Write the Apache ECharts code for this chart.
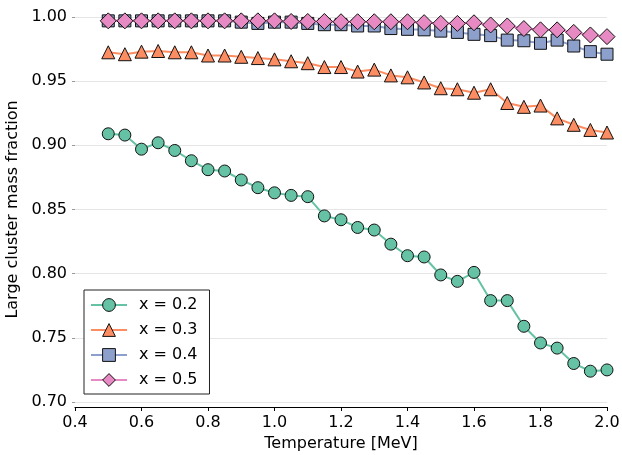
<!DOCTYPE html>
<html>
<head>
<meta charset="utf-8">
<script src="https://cdn.jsdelivr.net/npm/echarts@6/dist/echarts.min.js"></script>
<style>
  html, body { margin: 0; padding: 0; background: #fff; }
  #chart { width: 622px; height: 455px; }
</style>
</head>
<body>
<div id="chart"></div>
<script>
  // temperature grid [MeV]
  var temperature = [0.5, 0.55, 0.6, 0.65, 0.7, 0.75, 0.8, 0.85, 0.9, 0.95, 1.0,
    1.05, 1.1, 1.15, 1.2, 1.25, 1.3, 1.35, 1.4, 1.45, 1.5, 1.55, 1.6, 1.65, 1.7,
    1.75, 1.8, 1.85, 1.9, 1.95, 2.0];

  var seriesNames = ['x = 0.2', 'x = 0.3', 'x = 0.4', 'x = 0.5'];

  var frac02 = [0.909, 0.908, 0.897, 0.902, 0.896, 0.888, 0.881, 0.880, 0.873, 0.867, 0.863,
    0.861, 0.860, 0.845, 0.842, 0.836, 0.834, 0.823, 0.814, 0.813, 0.799, 0.794, 0.801, 0.779, 0.779,
    0.759, 0.746, 0.742, 0.730, 0.724, 0.725];
  var frac03 = [0.9725, 0.971, 0.973, 0.9735, 0.9725, 0.9725, 0.970, 0.970, 0.969, 0.968, 0.967,
    0.9655, 0.964, 0.961, 0.961, 0.9575, 0.959, 0.9545, 0.953, 0.949, 0.9445, 0.9437, 0.941, 0.9437, 0.933,
    0.930, 0.931, 0.921, 0.916, 0.912, 0.910];
  var frac04 = [0.997, 0.997, 0.997, 0.997, 0.997, 0.997, 0.997, 0.997, 0.996, 0.995, 0.996,
    0.996, 0.995, 0.994, 0.994, 0.993, 0.993, 0.991, 0.9904, 0.990, 0.989, 0.988, 0.9865, 0.9855, 0.982,
    0.9815, 0.9795, 0.982, 0.9774, 0.973, 0.971];
  var frac05 = [0.997, 0.997, 0.997, 0.997, 0.997, 0.997, 0.997, 0.997, 0.997, 0.997, 0.997,
    0.9965, 0.9965, 0.9965, 0.9963, 0.9963, 0.9963, 0.9963, 0.9963, 0.9956, 0.995, 0.995, 0.9955, 0.9938, 0.993,
    0.991, 0.990, 0.990, 0.988, 0.986, 0.9847];

  var colors = ['#66c2a5', '#fc8d62', '#8da0cb', '#e78ac3'];
  var symbols = ['circle', 'triangle', 'rect', 'diamond'];
  var sizes = [12, 13, 12, 16];
  var allData = [frac02, frac03, frac04, frac05];

  function pairs(ys) {
    var out = [];
    for (var i = 0; i < temperature.length; i++) {
      out.push([temperature[i], ys[i]]);
    }
    return out;
  }

  var series = [];
  for (var k = 0; k < allData.length; k++) {
    series.push({
      name: seriesNames[k],
      type: 'line',
      data: pairs(allData[k]),
      symbol: symbols[k],
      symbolSize: sizes[k],
      showAllSymbol: true,
      clip: false,
      lineStyle: { color: colors[k], width: 2 },
      itemStyle: { color: colors[k], borderColor: '#111', borderWidth: 1 },
      emphasis: { disabled: true },
      animation: false
    });
  }

  var chart = echarts.init(document.getElementById('chart'));
  chart.setOption({
    animation: false,
    color: colors,
    textStyle: { fontFamily: 'DejaVu Sans' },
    grid: { left: 75, right: 15, top: 17, bottom: 53, outerBoundsMode: 'none', containLabel: false },
    legend: {
      orient: 'vertical',
      left: 84,
      top: 290,
      data: seriesNames,
      itemWidth: 36,
      itemHeight: 16,
      itemGap: 9,
      padding: [7, 12, 6, 6],
      borderColor: '#222',
      borderWidth: 1,
      borderRadius: 0,
      backgroundColor: '#fff',
      itemStyle: { borderWidth: 1, borderColor: '#111' },
      lineStyle: { width: 2 },
      textStyle: { fontSize: 16, color: '#000', fontFamily: 'DejaVu Sans', padding: [0, 0, 0, 7] }
    },
    xAxis: {
      type: 'value',
      min: 0.4,
      max: 2.0,
      interval: 0.2,
      offset: 5,
      name: 'Temperature [MeV]',
      nameLocation: 'middle',
      nameGap: 28,
      nameTextStyle: { fontSize: 16, color: '#000' },
      axisLine: { lineStyle: { color: '#000', width: 1.2 } },
      axisTick: { length: 4, lineStyle: { color: '#000' } },
      axisLabel: {
        fontSize: 16, color: '#000', margin: 8,
        formatter: function (v) { return v.toFixed(1); }
      },
      splitLine: { show: false }
    },
    yAxis: {
      type: 'value',
      min: 0.70,
      max: 1.00,
      interval: 0.05,
      name: 'Large cluster mass fraction',
      nameLocation: 'middle',
      nameGap: 45,
      nameTextStyle: { fontSize: 16, color: '#000' },
      axisLine: { show: false },
      axisTick: { show: true, length: 3, lineStyle: { color: '#999' } },
      axisLabel: {
        fontSize: 16, color: '#000', margin: 8,
        formatter: function (v) { return v.toFixed(2); }
      },
      splitLine: { lineStyle: { color: '#e6e6e6', width: 1 } }
    },
    series: series
  });
</script>
</body>
</html>
